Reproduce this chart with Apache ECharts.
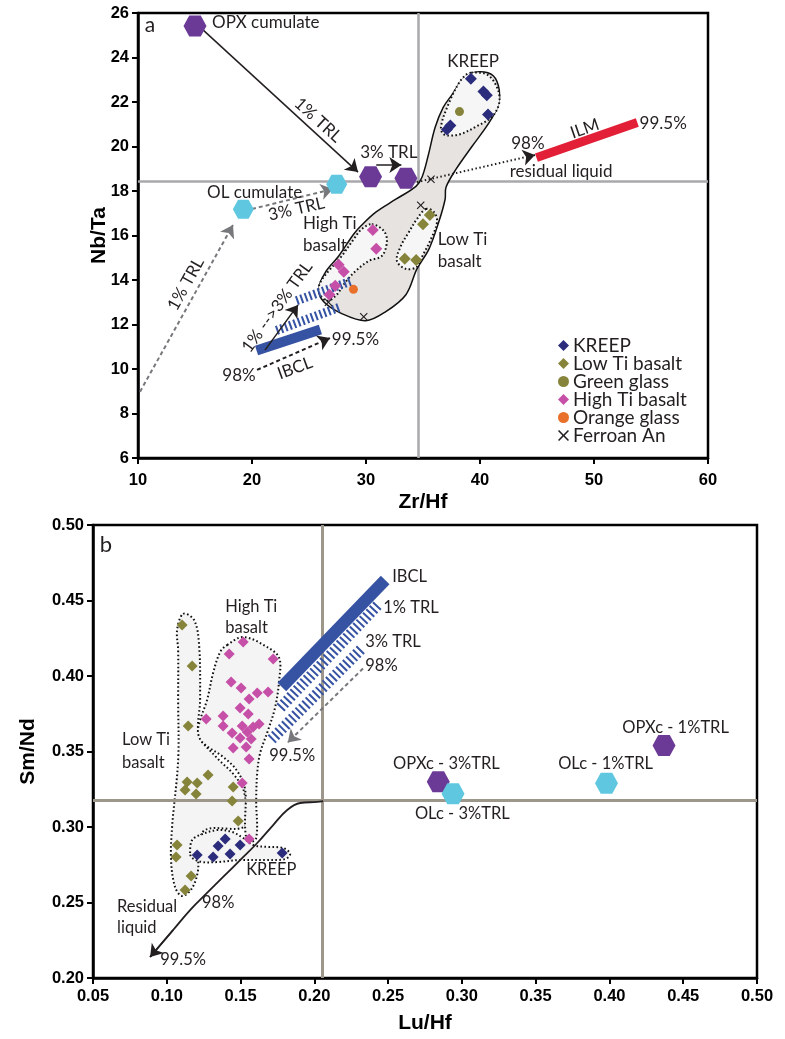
<!DOCTYPE html>
<html><head><meta charset="utf-8">
<script src="https://cdn.jsdelivr.net/npm/echarts@6/dist/echarts.min.js"></script>
<style>html,body{margin:0;padding:0;background:#fff}#c{width:785px;height:1039px}</style>
</head><body><div id="c"></div><script>
// ===== Panel a : Zr/Hf vs Nb/Ta =====
const xTicksA = {min:10, max:60, interval:10};
const yTicksA = {min:6, max:26, interval:2};
const kreepA = [[39.2,23.05],[40.3,22.47],[40.6,22.3],[40.7,21.44],[37.1,20.76],[37.4,20.94]];
const lowTiA = [[35.6,16.92],[35.0,16.51],[33.4,14.95],[34.4,14.9]];
const greenGlassA = [[38.2,21.57]];
const highTiA = [[30.6,16.25],[30.9,15.4],[27.6,14.68],[28.05,14.37],[27.3,13.74],[26.8,13.34]];
const orangeGlassA = [[28.9,13.58]];
const ferroanA = [[35.7,18.53],[34.8,17.36],[29.8,12.35],[26.7,13.0]];
const opxA = [[15.0,25.42],[30.4,18.64],[33.5,18.57]];
const olA = [[19.24,17.18],[27.43,18.30]];
const refA = {x:34.55, y:18.42};
const ilmA = [[44.95,19.5],[53.8,21.08]];
const ibclA = [[20.4,10.83],[26.0,11.77]];
const hatchA = [[[22.15,11.73],[27.8,12.8]], [[23.9,13.07],[28.75,13.96]]];
const solidArrowsA = [[[15.7,25.24],[29.3,18.85]], [[30.9,19.17],[33.1,19.17]], [[21.14,10.85],[24.04,12.88]]];
const grayDashArrowsA = [[[20.0,17.19],[27.1,18.09]], [[10.18,8.98],[18.33,16.47]]];
const blackDashArrowA = [[[20.44,9.96],[26.84,11.39]]];
const dottedArrowA = [[[34.47,18.40],[44.82,19.62]]];
const fieldA = [[39.93,23.36],[41.16,23.18],[41.69,22.55],[41.60,21.88],[40.81,21.08],[39.31,20.01],[37.90,18.98],[37.02,18.17],[36.94,17.63],[36.41,16.65],[35.53,15.40],[34.47,14.50],[33.50,13.34],[31.74,12.58],[29.98,12.17],[27.87,12.49],[26.29,13.02],[25.85,13.61],[26.46,14.37],[27.61,15.08],[28.93,16.07],[29.63,16.47],[30.86,17.05],[32.62,17.63],[34.38,18.21],[34.91,18.62],[35.44,19.56],[36.06,20.85],[36.76,21.75],[37.55,22.33],[38.70,23.14]];
const kreepFieldA = [[39.23,23.32],[40.63,23.23],[41.51,22.64],[41.69,21.97],[41.07,21.35],[39.67,20.90],[38.17,20.54],[36.85,20.54],[36.58,20.90],[37.29,21.97],[38.17,22.87],[38.79,23.23]];
const highTiFieldA = [[30.51,16.51],[31.57,16.20],[31.83,15.71],[31.39,15.08],[30.25,14.86],[29.10,14.41],[28.22,13.92],[27.34,13.29],[26.55,13.07],[25.85,13.47],[26.02,13.92],[26.73,14.41],[27.87,15.08],[28.93,15.84],[29.63,16.29]];
const lowTiFieldA = [[35.26,17.19],[35.97,17.05],[36.23,16.60],[35.70,15.84],[34.91,15.04],[34.47,14.59],[33.50,14.50],[32.71,14.86],[33.06,15.53],[33.77,16.16],[34.47,16.74]];
// [x, y, text, rotationDeg, align, fontSize]
const labelsA = [
  [10.6,25.45,'a',0,'left',21],
  [16.5,25.55,'OPX cumulate',0,'left'],
  [25.8,21.19,'1% TRL',-42,'center'],
  [32.0,19.72,'3% TRL',0,'center'],
  [39.4,23.8,'KREEP',0,'center'],
  [44.2,20.14,'98%',0,'center'],
  [49.2,20.8,'ILM',19,'center'],
  [54.0,21.04,'99.5%',0,'left'],
  [42.6,18.87,'residual liquid',0,'left'],
  [24.4,17.95,'OL cumulate',0,'right'],
  [23.9,17.19,'3% TRL',13,'center'],
  [24.47,16.56,'High Ti',0,'left'],
  [24.47,15.57,'basalt',0,'left'],
  [36.3,15.8,'Low Ti',0,'left'],
  [36.3,14.81,'basalt',0,'left'],
  [14.2,13.82,'1% TRL',61,'center'],
  [22.2,12.79,'1% -->3% TRL',54,'center'],
  [18.86,9.69,'98%',0,'center'],
  [23.77,10.04,'IBCL',20,'center'],
  [27.0,11.33,'99.5%',0,'left']
];

// ===== Panel b : Lu/Hf vs Sm/Nd =====
const xTicksB = {min:0.05, max:0.5, interval:0.05};
const yTicksB = {min:0.2, max:0.5, interval:0.05};
const kreepB = [[0.1396,0.2921],[0.1348,0.2874],[0.1206,0.2815],[0.1314,0.2801],[0.1429,0.2821],[0.1497,0.2881],[0.1782,0.2828]];
const lowTiB = [[0.1104,0.4338],[0.1172,0.4066],[0.1145,0.3669],[0.1280,0.3344],[0.1138,0.3298],[0.1206,0.3291],[0.1124,0.3245],[0.1199,0.3219],[0.1450,0.3265],[0.1443,0.3172],[0.1484,0.3040],[0.1070,0.2881],[0.1063,0.2801],[0.1165,0.2675],[0.1124,0.2583]];
const highTiB = [[0.1518,0.4225],[0.1423,0.4146],[0.1721,0.4113],[0.1436,0.3960],[0.1504,0.3921],[0.1558,0.3848],[0.1613,0.3887],[0.1687,0.3894],[0.1497,0.3788],[0.1552,0.3748],[0.1382,0.3735],[0.1267,0.3715],[0.1382,0.3669],[0.1443,0.3623],[0.1511,0.3669],[0.1545,0.3629],[0.1585,0.3662],[0.1626,0.3682],[0.1497,0.3589],[0.1572,0.3583],[0.1450,0.3523],[0.1538,0.3530],[0.1558,0.3450],[0.1511,0.3291],[0.1558,0.2921]];
const opxB = [[0.437,0.354],[0.284,0.330]];
const olB = [[0.398,0.329],[0.294,0.322]];
const refB = {x:0.2054, y:0.318};
const ibclB = [[0.178,0.3927],[0.248,0.4636]];
const hatchB = [[[0.177,0.379],[0.243,0.447]], [[0.171,0.358],[0.232,0.418]]];
const grayDashArrowB = [[[0.233,0.405],[0.182,0.356]]];
const residualB = [[0.206,0.3172],[0.202,0.3166],[0.1904,0.3159],[0.1816,0.3113],[0.1721,0.3013],[0.1613,0.2894],[0.1497,0.2781],[0.1382,0.2669],[0.1273,0.2563],[0.1158,0.2450],[0.1043,0.2318],[0.0887,0.2139]];
const lowTiFieldB = [[0.1111,0.4411],[0.1185,0.4371],[0.1219,0.4205],[0.1226,0.3841],[0.1219,0.3609],[0.1334,0.3464],[0.1457,0.3344],[0.1524,0.3232],[0.1531,0.3007],[0.1260,0.2980],[0.1212,0.2848],[0.1212,0.2715],[0.1172,0.2596],[0.1104,0.2543],[0.1056,0.2603],[0.1029,0.2781],[0.1036,0.3000],[0.1077,0.3444],[0.1077,0.3841],[0.1077,0.4172],[0.1070,0.4305]];
const highTiFieldB = [[0.1409,0.4205],[0.1518,0.4258],[0.1680,0.4192],[0.1762,0.4119],[0.1762,0.3974],[0.1735,0.3795],[0.1687,0.3642],[0.1633,0.3490],[0.1613,0.3358],[0.1606,0.3179],[0.1606,0.2927],[0.1552,0.2901],[0.1531,0.2993],[0.1531,0.3245],[0.1477,0.3371],[0.1382,0.3464],[0.1246,0.3556],[0.1212,0.3623],[0.1226,0.3709],[0.1273,0.3841],[0.1314,0.4020],[0.1362,0.4159]];
const kreepFieldB = [[0.1158,0.2828],[0.1172,0.2914],[0.1226,0.2947],[0.1341,0.2980],[0.1443,0.2967],[0.1518,0.2927],[0.1585,0.2881],[0.1680,0.2868],[0.1789,0.2861],[0.1836,0.2821],[0.1803,0.2788],[0.1680,0.2781],[0.1497,0.2781],[0.1341,0.2768],[0.1239,0.2768],[0.1172,0.2795]];
const labelsB = [
  [0.0545,0.487,'b',0,'left',22],
  [0.1396,0.4457,'High Ti',0,'left'],
  [0.1396,0.4318,'basalt',0,'left'],
  [0.0697,0.3576,'Low Ti',0,'left'],
  [0.0697,0.3424,'basalt',0,'left'],
  [0.2528,0.4656,'IBCL',0,'left'],
  [0.2467,0.445,'1% TRL',0,'left'],
  [0.2345,0.4225,'3% TRL',0,'left'],
  [0.2345,0.4066,'98%',0,'left'],
  [0.185,0.347,'99.5%',0,'center'],
  [0.4448,0.3656,'OPXc - 1%TRL',0,'center'],
  [0.3974,0.3417,'OLc - 1%TRL',0,'center'],
  [0.2895,0.3417,'OPXc - 3%TRL',0,'center'],
  [0.3003,0.3086,'OLc - 3%TRL',0,'center'],
  [0.0663,0.247,'Residual',0,'left'],
  [0.0663,0.2331,'liquid',0,'left'],
  [0.1239,0.2497,'98%',0,'left'],
  [0.0955,0.2119,'99.5%',0,'left'],
  [0.1538,0.2715,'KREEP',0,'left']
];

// ===== styling =====
const FONT = 'Lato';
const TXT = '#231f20';
const C = {kreep:'#2b2d7c', lowTi:'#86843a', green:'#86843a', highTi:'#c650a8', orange:'#e8702a', opx:'#6b3a96', ol:'#5fc8e0', ilm:'#e31e37', ibcl:'#3552a3'};
const HEX = 'path://M-1,0 L-0.5,-0.866 L0.5,-0.866 L1,0 L0.5,0.866 L-0.5,0.866 Z';
const XMARK = 'path://M0,1 L1,0 L5,4 L9,0 L10,1 L6,5 L10,9 L9,10 L5,6 L1,10 L0,9 L4,5 Z';

function axisCommon(t, name, gap, margin, fmt) {
  return Object.assign({
    type:'value', name:name, nameLocation:'middle', nameGap:gap,
    nameTextStyle:{fontFamily:'Liberation Sans', fontWeight:'bold', fontSize:21, color:'#000'},
    axisLine:{show:true, onZero:false, lineStyle:{color:'#000', width:2.5}},
    axisTick:{show:true, length:6, lineStyle:{color:'#000', width:2}},
    axisLabel:{fontFamily:'Liberation Sans', fontWeight:'bold', fontSize:16.5, color:'#000', margin:margin, formatter:fmt},
    splitLine:{show:false}
  }, t);
}
function scatter(name, data, idx, symbol, size, color, z) {
  return {type:'scatter', name, data, xAxisIndex:idx, yAxisIndex:idx, symbol, symbolSize:size,
    itemStyle:{color, opacity:1}, z:z||5, silent:true};
}
function linesS(idx, segs, style, sym, z) {
  return {type:'lines', coordinateSystem:'cartesian2d', xAxisIndex:idx, yAxisIndex:idx,
    symbol: sym || ['none','none'], symbolSize: 12, silent:true, z: z||4,
    lineStyle: Object.assign({opacity:1, curveness:0, cap:'butt'}, style),
    data: segs.map(s => ({coords: s}))};
}
function polyS(idx, pts, fill, dotted, z) {
  return {type:'custom', xAxisIndex:idx, yAxisIndex:idx, z:z, silent:true,
    data:[[pts[0][0], pts[0][1]]],
    renderItem:(params, api) => ({type:'polygon',
      shape:{points: pts.map(p => api.coord(p)), smooth:0.35},
      style:{fill, stroke:'#111', lineWidth: dotted?2:1.5, lineDash: dotted?[1.6,2.4]:null}})};
}
function textS(idx, items, size) {
  return {type:'custom', xAxisIndex:idx, yAxisIndex:idx, z:20, silent:true,
    data: items.map(a => [a[0], a[1]]),
    renderItem:(params, api) => {
      const a = items[params.dataIndex];
      const p = api.coord([a[0], a[1]]);
      return {type:'text', x:p[0], y:p[1], rotation:(a[3]||0)*Math.PI/180,
        style:{text:a[2], fill:TXT, fontFamily:FONT, fontSize:a[5]||size, align:a[4]||'center', verticalAlign:'middle'}};
    }};
}

const chart = echarts.init(document.getElementById('c'), null, {renderer:'canvas'});
const nR = residualB.length;
const series = [
  // panel a
  linesS(0, [[[refA.x,yTicksA.min],[refA.x,yTicksA.max]], [[xTicksA.min,refA.y],[xTicksA.max,refA.y]]], {color:'#a9a9ad', width:2.5}, null, 1),
  polyS(0, fieldA, '#e7e3e1', false, 2),
  polyS(0, kreepFieldA, '#f6f6f6', true, 3),
  polyS(0, highTiFieldA, '#f6f6f6', true, 3),
  polyS(0, lowTiFieldA, '#f6f6f6', true, 3),
  linesS(0, [ilmA], {color:C.ilm, width:9}, null, 4),
  linesS(0, [ibclA], {color:C.ibcl, width:10}, null, 4),
  linesS(0, hatchA, {color:C.ibcl, width:9, type:[2,2.6]}, null, 4),
  linesS(0, solidArrowsA, {color:TXT, width:1.5}, ['none','arrow'], 6),
  linesS(0, grayDashArrowsA, {color:'#77787b', width:2, type:[4,3]}, ['none','arrow'], 6),
  linesS(0, blackDashArrowA, {color:TXT, width:2, type:[4,3]}, ['none','arrow'], 6),
  linesS(0, dottedArrowA, {color:TXT, width:2, type:[1.5,2.5]}, ['none','arrow'], 6),
  scatter('OPX', opxA, 0, HEX, [23,21], C.opx, 7),
  scatter('OL', olA, 0, HEX, [21,19], C.ol, 7),
  scatter('KREEP', kreepA, 0, 'diamond', 12, C.kreep),
  scatter('Low Ti basalt', lowTiA, 0, 'diamond', 12, C.lowTi),
  scatter('Green glass', greenGlassA, 0, 'circle', 9, C.green),
  scatter('High Ti basalt', highTiA, 0, 'diamond', 12, C.highTi),
  scatter('Orange glass', orangeGlassA, 0, 'circle', 9, C.orange),
  scatter('Ferroan An', ferroanA, 0, XMARK, 8, TXT),
  textS(0, labelsA, 17),
  // panel b
  polyS(1, lowTiFieldB, '#f4f4f4', true, 2),
  polyS(1, highTiFieldB, '#f4f4f4', true, 2),
  polyS(1, kreepFieldB, '#f4f4f4', true, 2),
  linesS(1, [[[refB.x,yTicksB.min],[refB.x,yTicksB.max]], [[xTicksB.min,refB.y],[xTicksB.max,refB.y]]], {color:'#9d968b', width:3}, null, 3),
  linesS(1, [ibclB], {color:C.ibcl, width:12}, null, 4),
  linesS(1, hatchB, {color:C.ibcl, width:11, type:[2,2.8]}, null, 4),
  linesS(1, grayDashArrowB, {color:'#77787b', width:2, type:[4,3]}, ['none','arrow'], 6),
  {type:'line', xAxisIndex:1, yAxisIndex:1, data:residualB, smooth:0.4, symbol:'none', silent:true, z:6,
    lineStyle:{color:TXT, width:1.8}},
  linesS(1, [[residualB[nR-2], residualB[nR-1]]], {color:TXT, width:1.8}, ['none','arrow'], 6),
  scatter('OPX', opxB, 1, HEX, [23,21], C.opx, 7),
  scatter('OL', olB, 1, HEX, [23,21], C.ol, 7),
  scatter('Low Ti basalt', lowTiB, 1, 'diamond', 11, C.lowTi),
  scatter('High Ti basalt', highTiB, 1, 'diamond', 11, C.highTi),
  scatter('KREEP', kreepB, 1, 'diamond', 11, C.kreep),
  textS(1, labelsB, 16.5)
];

const yA = axisCommon(Object.assign({gridIndex:0}, yTicksA), 'Nb/Ta', 28, 9, v => String(v));
yA.nameMoveOverlap = false;

chart.setOption({
  animation:false,
  backgroundColor:'#fff',
  grid:[
    {left:138, top:13, width:570, height:445, show:true, borderColor:'#000', borderWidth:2.5, containLabel:false},
    {left:93, top:525, width:664, height:453, show:true, borderColor:'#000', borderWidth:2.5, containLabel:false}
  ],
  xAxis:[
    axisCommon(Object.assign({gridIndex:0}, xTicksA), 'Zr/Hf', 34, 14, v => String(v)),
    axisCommon(Object.assign({gridIndex:1}, xTicksB), 'Lu/Hf', 35, 10, v => v.toFixed(2))
  ],
  yAxis:[
    yA,
    axisCommon(Object.assign({gridIndex:1}, yTicksB), 'Sm/Nd', 54, 9, v => v.toFixed(2))
  ],
  legend:{
    data:['KREEP','Low Ti basalt','Green glass','High Ti basalt','Orange glass','Ferroan An'],
    orient:'vertical', left:553, top:331, itemWidth:11, itemHeight:11, itemGap:-1,
    selectedMode:false,
    textStyle:{fontFamily:FONT, fontSize:19, color:TXT, lineHeight:16, padding:[0,0,0,-1]}
  },
  series
});
</script></body></html>
